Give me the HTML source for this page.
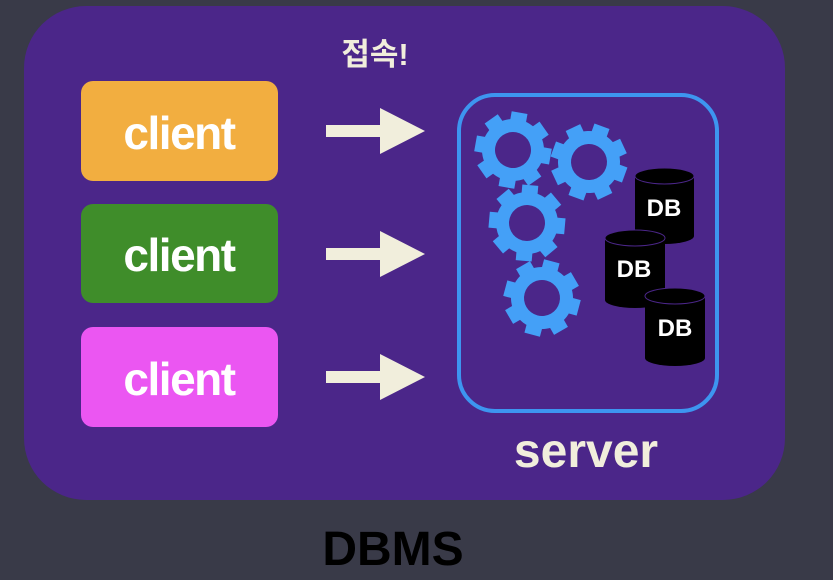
<!DOCTYPE html>
<html><head><meta charset="utf-8"><style>
html,body{margin:0;padding:0;background:#393a48;}
svg{display:block}
text{font-family:"Liberation Sans","Noto Sans CJK KR",sans-serif;font-weight:bold}
</style></head><body>
<svg width="833" height="580" viewBox="0 0 833 580" xmlns="http://www.w3.org/2000/svg">
<defs>
<g id="gear">
<circle r="31" fill="#44a0f7"/>
<g fill="#44a0f7">
<rect x="-8" y="-38" width="16" height="16"/>
<rect x="-8" y="-38" width="16" height="16" transform="rotate(45)"/>
<rect x="-8" y="-38" width="16" height="16" transform="rotate(90)"/>
<rect x="-8" y="-38" width="16" height="16" transform="rotate(135)"/>
<rect x="-8" y="-38" width="16" height="16" transform="rotate(180)"/>
<rect x="-8" y="-38" width="16" height="16" transform="rotate(225)"/>
<rect x="-8" y="-38" width="16" height="16" transform="rotate(270)"/>
<rect x="-8" y="-38" width="16" height="16" transform="rotate(315)"/>
</g>
<circle r="18" fill="#4b2689"/>
</g>
<g id="arrow" fill="#f1eedc">
<rect x="326" y="-6" width="56" height="12"/>
<polygon points="380,-23 425,0 380,23"/>
</g>
</defs>
<rect x="0" y="0" width="833" height="580" fill="#393a48"/>
<rect x="24" y="6" width="761" height="494" rx="62" fill="#4b2689"/>
<text x="375" y="65" font-size="31" fill="#f1eedc" text-anchor="middle">접속!</text>

<rect x="81" y="81" width="197" height="100" rx="12" fill="#f2ae40"/>
<text x="179" y="149" font-size="46" letter-spacing="-1.5" fill="#fff" text-anchor="middle">client</text>
<rect x="81" y="204" width="197" height="99" rx="12" fill="#3f8d2a"/>
<text x="179" y="271" font-size="46" letter-spacing="-1.5" fill="#fff" text-anchor="middle">client</text>
<rect x="81" y="327" width="197" height="100" rx="12" fill="#eb56f2"/>
<text x="179" y="395" font-size="46" letter-spacing="-1.5" fill="#fff" text-anchor="middle">client</text>

<use href="#arrow" transform="translate(0,131)"/>
<use href="#arrow" transform="translate(0,254)"/>
<use href="#arrow" transform="translate(0,377)"/>

<rect x="459" y="95" width="258" height="316" rx="36" fill="none" stroke="#3d95f0" stroke-width="4"/>
<use href="#gear" transform="translate(513,150) rotate(10)"/>
<use href="#gear" transform="translate(589,162) rotate(20)"/>
<use href="#gear" transform="translate(527,223) rotate(5)"/>
<use href="#gear" transform="translate(542,298) rotate(15)"/>

<g>
<rect x="635" y="176" width="59" height="60" fill="#000"/>
<ellipse cx="664.5" cy="236" rx="29.5" ry="8" fill="#000"/>
<ellipse cx="664.5" cy="176" rx="29.5" ry="8" fill="#000" stroke="#4b2689" stroke-width="1"/>
<text x="664" y="216" font-size="24" fill="#fff" text-anchor="middle" font-weight="normal">DB</text>
</g>
<g>
<rect x="605" y="238" width="60" height="62" fill="#000"/>
<ellipse cx="635" cy="300" rx="30" ry="8" fill="#000"/>
<ellipse cx="635" cy="238" rx="30" ry="8" fill="#000" stroke="#4b2689" stroke-width="1"/>
<text x="634" y="277" font-size="24" fill="#fff" text-anchor="middle" font-weight="normal">DB</text>
</g>
<g>
<rect x="645" y="296" width="60" height="62" fill="#000"/>
<ellipse cx="675" cy="358" rx="30" ry="8" fill="#000"/>
<ellipse cx="675" cy="296" rx="30" ry="8" fill="#000" stroke="#4b2689" stroke-width="1"/>
<text x="675" y="336" font-size="24" fill="#fff" text-anchor="middle" font-weight="normal">DB</text>
</g>

<text x="586" y="467" font-size="48" fill="#f1eedc" text-anchor="middle">server</text>
<text x="393" y="565" font-size="48" fill="#000" text-anchor="middle">DBMS</text>
</svg>
</body></html>
